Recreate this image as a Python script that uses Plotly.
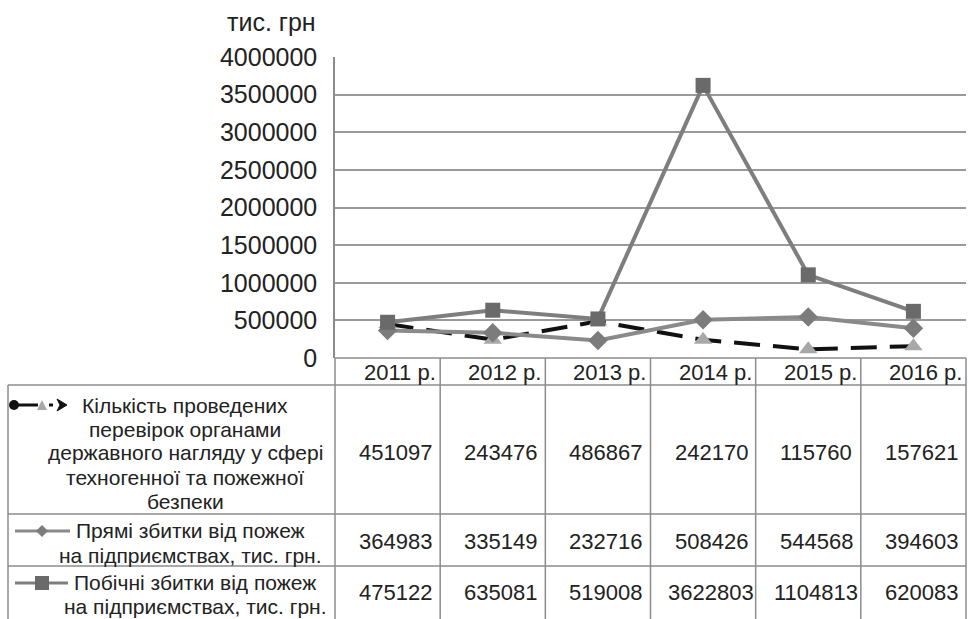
import plotly.graph_objects as go

years = ["2011 р.", "2012 р.", "2013 р.", "2014 р.", "2015 р.", "2016 р."]
inspections = [451097, 243476, 486867, 242170, 115760, 157621]
direct_losses = [364983, 335149, 232716, 508426, 544568, 394603]
indirect_losses = [475122, 635081, 519008, 3622803, 1104813, 620083]

row_labels = [
    ["Кількість проведених", "перевірок органами", "державного нагляду у сфері",
     "техногенної та пожежної", "безпеки"],
    ["Прямі збитки від пожеж", "на підприємствах, тис. грн."],
    ["Побічні збитки від пожеж", "на підприємствах, тис. грн."],
]
y_title = "тис. грн"
y_ticks = [0, 500000, 1000000, 1500000, 2000000, 2500000, 3000000, 3500000, 4000000]

W, H = 969, 619
FONT = "Liberation Sans, Arial, Helvetica, sans-serif"
TXT = "#222222"
LINE = "#8c8c8c"

def px(x):
    return x / W

def py(y):
    return 1 - y / H

fig = go.Figure()
fig.add_trace(go.Scatter(
    x=years, y=inspections, mode="lines+markers",
    line=dict(color="#111111", width=4, dash="26px,13px"),
    marker=dict(symbol="triangle-up", size=16, color="#a8a8a8"),
    showlegend=False, cliponaxis=False, hoverinfo="skip"))
fig.add_trace(go.Scatter(
    x=years, y=direct_losses, mode="lines+markers",
    line=dict(color="#8a8a8a", width=4),
    marker=dict(symbol="diamond", size=15, color="#7c7c7c"),
    showlegend=False, cliponaxis=False, hoverinfo="skip"))
fig.add_trace(go.Scatter(
    x=years, y=indirect_losses, mode="lines+markers",
    line=dict(color="#7e7e7e", width=4),
    marker=dict(symbol="square", size=15, color="#6a6a6a"),
    showlegend=False, cliponaxis=False, hoverinfo="skip"))

x0, x1 = 335, 966
y_zero, y_top = 358, 57
fig.update_layout(
    width=W, height=H,
    margin=dict(l=0, r=0, t=0, b=0, pad=0, autoexpand=False),
    paper_bgcolor="white", plot_bgcolor="white",
    font=dict(family=FONT, color=TXT),
    xaxis=dict(domain=[px(x0), px(x1)], type="category", range=[-0.5, 5.5], automargin=False,
               showticklabels=False, showgrid=False, zeroline=False, showline=False),
    yaxis=dict(domain=[py(y_zero), py(y_top)], range=[0, 4000000], automargin=False,
               tickvals=y_ticks, ticktext=[str(v) for v in y_ticks],
               tickfont=dict(size=25, color=TXT, family=FONT),
               showgrid=True, gridcolor="#9a9a9a", gridwidth=1.5,
               zeroline=False, showline=True, linecolor=LINE, linewidth=1.5,
               ticks="", ticklabelstandoff=11),
)

shapes = []
def hline(y, xa, xb):
    shapes.append(dict(type="line", xref="paper", yref="paper", x0=px(xa), x1=px(xb),
                       y0=py(y), y1=py(y), line=dict(color=LINE, width=1.5)))
def vline(x, ya, yb):
    shapes.append(dict(type="line", xref="paper", yref="paper", x0=px(x), x1=px(x),
                       y0=py(ya), y1=py(yb), line=dict(color=LINE, width=1.5)))

row_bounds = [385, 514, 566, 619]
hline(358, x0, x1)
for y in row_bounds[:3]:
    hline(y, 8, x1)
vline(8, 385, 619)
vline(x0, 358, 619)
vline(x1, 358, 619)
for k in range(len(years) - 1):
    shapes.append(dict(type="line", xref="x", yref="paper", x0=k + 0.5, x1=k + 0.5,
                       y0=py(358), y1=py(619), line=dict(color=LINE, width=1.5)))

# legend keys (decoration)
ky = 405
shapes.append(dict(type="line", xref="paper", yref="paper", x0=px(12), x1=px(38),
                   y0=py(ky), y1=py(ky), line=dict(color="#111", width=3)))
shapes.append(dict(type="circle", xref="paper", yref="paper", x0=px(9), x1=px(19),
                   y0=py(ky + 5), y1=py(ky - 5), fillcolor="#111", line=dict(width=0)))
shapes.append(dict(type="path", xref="paper", yref="paper",
                   path=f"M {px(37)} {py(ky+5)} L {px(47)} {py(ky+5)} L {px(42)} {py(ky-5)} Z",
                   fillcolor="#a8a8a8", line=dict(width=0)))
shapes.append(dict(type="line", xref="paper", yref="paper", x0=px(49), x1=px(53),
                   y0=py(ky), y1=py(ky), line=dict(color="#111", width=3)))
shapes.append(dict(type="path", xref="paper", yref="paper",
                   path=f"M {px(57)} {py(ky-6)} L {px(67)} {py(ky)} L {px(57)} {py(ky+6)} L {px(60)} {py(ky)} Z",
                   fillcolor="#111", line=dict(color="#111", width=1)))

ky2 = 531
shapes.append(dict(type="line", xref="paper", yref="paper", x0=px(15), x1=px(70),
                   y0=py(ky2), y1=py(ky2), line=dict(color="#8a8a8a", width=3)))
shapes.append(dict(type="path", xref="paper", yref="paper",
                   path=f"M {px(36)} {py(ky2)} L {px(42)} {py(ky2-6)} L {px(48)} {py(ky2)} L {px(42)} {py(ky2+6)} Z",
                   fillcolor="#7c7c7c", line=dict(width=0)))
ky3 = 583
shapes.append(dict(type="line", xref="paper", yref="paper", x0=px(15), x1=px(68),
                   y0=py(ky3), y1=py(ky3), line=dict(color="#7e7e7e", width=3)))
shapes.append(dict(type="rect", xref="paper", yref="paper", x0=px(35), x1=px(49),
                   y0=py(ky3 + 7), y1=py(ky3 - 7), fillcolor="#6a6a6a", line=dict(width=0)))

annotations = []
annotations.append(dict(text=y_title, xref="paper", yref="paper", x=px(318), y=py(22),
                        xanchor="right", yanchor="middle", showarrow=False,
                        font=dict(size=25, color=TXT, family=FONT)))
for i, yr in enumerate(years):
    annotations.append(dict(text=yr, xref="x", yref="paper", x=i, y=py(372),
                            xanchor="center", yanchor="middle", xshift=12, showarrow=False,
                            font=dict(size=22, color=TXT, family=FONT)))

series_rows = [inspections, direct_losses, indirect_losses]
row_centers = [452, 541, 592]
label_x = [185, 190, 195]
label_line_y = [[405, 429, 453, 477, 501], [530, 555], [582, 606]]
for r, vals in enumerate(series_rows):
    for i, v in enumerate(vals):
        annotations.append(dict(text=str(v), xref="x", yref="paper", x=i, y=py(row_centers[r]),
                                xanchor="center", yanchor="middle", xshift=8, showarrow=False,
                                font=dict(size=22, color=TXT, family=FONT)))
    for line_text, ly in zip(row_labels[r], label_line_y[r]):
        annotations.append(dict(text=line_text, xref="paper", yref="paper", x=px(label_x[r]), y=py(ly),
                                xanchor="center", yanchor="middle", align="center", showarrow=False,
                                font=dict(size=21, color=TXT, family=FONT)))

fig.update_layout(shapes=shapes, annotations=annotations)
fig.write_html("out.html", config={"displayModeBar": False},
               post_script="document.body.style.margin='0';document.body.style.overflow='hidden';")
